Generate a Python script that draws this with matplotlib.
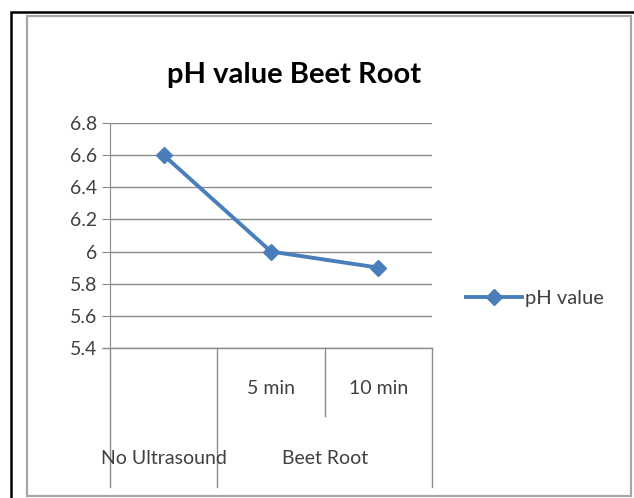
import matplotlib
matplotlib.use("Agg")
import matplotlib.pyplot as plt
import matplotlib.transforms as mtransforms
from matplotlib.patches import Rectangle

# data
groups = ["No Ultrasound", "Beet Root"]
times = ["", "5 min", "10 min"]
ph_value = [6.6, 6.0, 5.9]
yticks = [5.4, 5.6, 5.8, 6.0, 6.2, 6.4, 6.6, 6.8]
ylabels = ["5.4", "5.6", "5.8", "6", "6.2", "6.4", "6.6", "6.8"]

plt.rcParams['font.family'] = ['Lato', 'DejaVu Sans']
W, H = 634, 498
fig = plt.figure(figsize=(W/100, H/100), dpi=100)
fig.patch.set_facecolor("white")

# outer black frame + grey chart frame
fig.patches.append(Rectangle((11/W, -0.1), 1.2, 1-12/H+0.1, transform=fig.transFigure,
                             fill=False, edgecolor="black", linewidth=1.8))
fig.patches.append(Rectangle((27/W, 2/H), (631-27)/W, (496-16)/H, transform=fig.transFigure,
                             fill=False, edgecolor="#a6a6a6", linewidth=1.6))

ax = fig.add_axes([110/W, 150/H, 322/W, 225/H])
x = [i + 0.5 for i in range(len(ph_value))]
ax.plot(x, ph_value, color="#4a7ebb", linewidth=2.8, marker="D", markersize=8,
        label="pH value", zorder=3)

ax.set_xlim(0, 3)
ax.set_ylim(5.4, 6.8)
ax.set_yticks(yticks)
ax.set_yticklabels(ylabels)
ax.yaxis.grid(True, color="#8c8c8c", linewidth=1)
ax.set_axisbelow(True)
for s in ["top", "right", "bottom"]:
    ax.spines[s].set_visible(False)
ax.spines["left"].set_color("#8c8c8c")
ax.tick_params(axis="y", length=6, color="#8c8c8c", labelsize=14, labelcolor="#404040", pad=3)
ax.set_xticks([])

# bottom line extends over the ticks
trans = mtransforms.blended_transform_factory(ax.transData, ax.transAxes)
ax.plot([-7/322*3, 3], [0, 0], transform=trans, color="#8c8c8c", linewidth=1, clip_on=False)

# multi-level category axis
for b in [0, 1, 3]:
    ax.plot([b, b], [0, -0.618], transform=trans, color="#8c8c8c", linewidth=1, clip_on=False)
ax.plot([2, 2], [0, -0.302], transform=trans, color="#8c8c8c", linewidth=1, clip_on=False)
for xi, t in zip(x, times):
    ax.text(xi, -0.178, t, transform=trans, ha="center", va="center", fontsize=14, color="#404040")
ax.text(0.5, -0.49, groups[0], transform=trans, ha="center", va="center", fontsize=14, color="#404040")
ax.text(2.0, -0.49, groups[1], transform=trans, ha="center", va="center", fontsize=14, color="#404040")

fig.text(294/W, 1-75/H, "pH value Beet Root", ha="center", va="center",
         fontsize=21, fontweight="bold", color="black")

fig.legend(loc="center left", bbox_to_anchor=(466/W, 1-298/H), frameon=False,
           fontsize=14.5, handlelength=2.8, handletextpad=0.15, borderpad=0, borderaxespad=0,
           labelcolor="#404040")

fig.savefig("out.png", dpi=100)
